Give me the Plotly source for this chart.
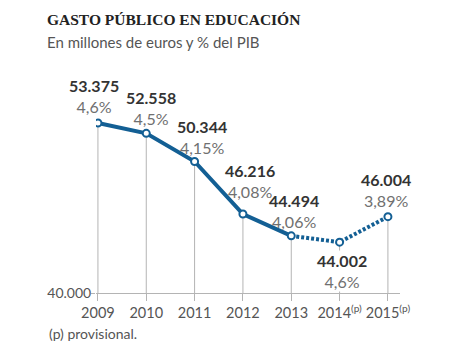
import plotly.graph_objects as go

years = [2009, 2010, 2011, 2012, 2013, 2014, 2015]
tick_labels = ["2009", "2010", "2011", "2012", "2013",
               "2014<sup>(p)</sup>", "2015<sup>(p)</sup>"]
gasto = [53375, 52558, 50344, 46216, 44494, 44002, 46004]
gasto_labels = ["53.375", "52.558", "50.344", "46.216", "44.494", "44.002", "46.004"]
pib_labels = ["4,6%", "4,5%", "4,15%", "4,08%", "4,06%", "4,6%", "3,89%"]
y_base = 40000
y_tick_label = "40.000"

BLUE = "#135f94"
GREY_LINE = "#b4b4b4"
DARK = "#333333"
MID = "#707070"
FONT = "Lato"

fig = go.Figure()

# solid part (definitive data) and dotted part (provisional)
fig.add_trace(go.Scatter(x=years[:5], y=gasto[:5], mode="lines",
                         line=dict(color=BLUE, width=4), hoverinfo="skip"))
fig.add_trace(go.Scatter(x=years[4:], y=gasto[4:], mode="lines",
                         line=dict(color=BLUE, width=4, dash="3px,2px"), hoverinfo="skip"))
fig.add_trace(go.Scatter(x=years, y=gasto, mode="markers",
                         marker=dict(color="white", size=7,
                                     line=dict(color=BLUE, width=2)),
                         hoverinfo="skip"))

# vertical drop lines from each point to the base
for x, v in zip(years, gasto):
    fig.add_shape(type="line", xref="x", yref="y", x0=x, x1=x, y0=y_base, y1=v,
                  line=dict(color=GREY_LINE, width=1), layer="below")

# label placement (style): (xshift, yshift)
shifts = {2009: (-4, 27), 2010: (5, 25), 2011: (7, 25), 2012: (7, 33),
          2013: (3, 25), 2014: (2, -29), 2015: (-2, 27)}
for x, v, g, p in zip(years, gasto, gasto_labels, pib_labels):
    xs, ys = shifts[x]
    fig.add_annotation(x=x, y=v, xref="x", yref="y", showarrow=False,
                       xshift=xs, yshift=ys, yanchor="middle",
                       text=f"<b>{g}</b><br><span style='color:{MID}'>{p}</span>",
                       font=dict(family=FONT, size=16, color=DARK),
                       bgcolor="white" if ys < 0 else "rgba(0,0,0,0)",
                       borderpad=0, align="center")

# title, subtitle, footnote
fig.add_annotation(xref="paper", yref="paper", x=0, y=1, showarrow=False,
                   text="<b>GASTO PÚBLICO EN EDUCACIÓN</b>",
                   font=dict(family="Liberation Serif", size=15.5, color="#222"),
                   xanchor="left", yanchor="middle", xshift=-51, yshift=41)
fig.add_annotation(xref="paper", yref="paper", x=0, y=1, showarrow=False,
                   text="En millones de euros y % del PIB",
                   font=dict(family=FONT, size=15, color="#555"),
                   xanchor="left", yanchor="middle", xshift=-51, yshift=18)
fig.add_annotation(xref="paper", yref="paper", x=0, y=0, showarrow=False,
                   text="(p) provisional.",
                   font=dict(family=FONT, size=14, color="#555"),
                   xanchor="left", yanchor="middle", xshift=-49, yshift=-40)

fig.update_layout(
    width=470, height=353,
    margin=dict(l=96, r=70, t=60, b=60, autoexpand=False),
    paper_bgcolor="white", plot_bgcolor="white",
    showlegend=False,
    xaxis=dict(range=[2008.96, 2015.25], tickvals=years, ticktext=tick_labels,
               tickangle=0, automargin=False,
               showgrid=False, zeroline=False, showline=True, linecolor=GREY_LINE,
               linewidth=1, ticks="outside", ticklen=7, tickcolor=GREY_LINE,
               tickfont=dict(family=FONT, size=14.5, color="#555"), fixedrange=True),
    yaxis=dict(range=[y_base, 58330], tickvals=[y_base], ticktext=[y_tick_label],
               automargin=False,
               showgrid=False, zeroline=False, showline=False,
               ticks="outside", ticklen=4, tickcolor=GREY_LINE,
               ticklabelstandoff=-3,
               tickfont=dict(family=FONT, size=14, color="#555"), fixedrange=True),
)

fig.write_html("out.html")
